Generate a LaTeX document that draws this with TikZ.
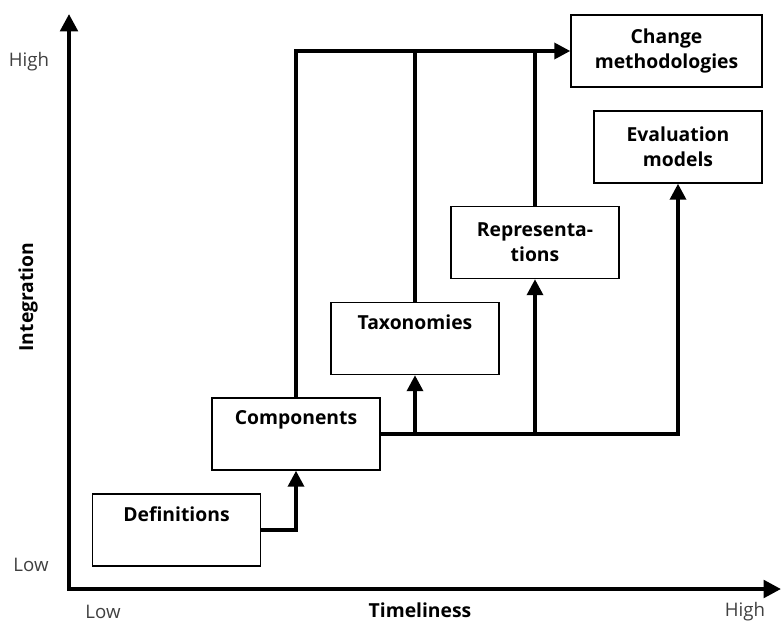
\documentclass[tikz,border=0pt]{standalone}
\usepackage{fontspec}
\setmainfont{Open Sans}
\usetikzlibrary{arrows.meta}
\usetikzlibrary{positioning}

\begin{document}
\begin{tikzpicture}[x=0.75pt,y=-0.75pt]
      \tikzstyle{every node}=[inner sep=0pt]
      \tikzstyle{box}=[draw,line width=1.1pt,minimum width=126pt,minimum height=54pt,align=center,font=\fontsize{14.5}{18.75}\selectfont\bfseries]
      \tikzstyle{lbl}=[text=black!75,font=\fontsize{14}{17}\selectfont]
      \tikzstyle{ttl}=[font=\fontsize{14.5}{17}\selectfont\bfseries]
      \tikzstyle{flow}=[line width=2.6pt,-{Triangle[length=12pt,width=12pt]}]
      \tikzstyle{link}=[line width=2.6pt]
      \tikzstyle{axis}=[line width=3pt,{Triangle[length=13pt,width=13pt]}-{Triangle[length=13pt,width=13pt]}]
      \useasboundingbox (0,0) rectangle (782,621);

      % axes
      \coordinate (orig) at (69,589);
      \coordinate (ytop) at (69,14);
      \coordinate (xend) at (781,589);
      \draw[axis] (ytop) -- (orig) -- (xend);

      \node[lbl] (yhigh) at (29,62)  {High};
      \node[lbl] (ylow)  at (31,565) {Low};
      \node[lbl] (xlow)  at (103,612) {Low};
      \node[lbl] (xhigh) at (745,612) {High};
      \node[ttl] (xname) at (420,610) {Timeliness};
      \node[ttl,rotate=90] (yname) at (28,297) {Integration};

      % boxes
      \node[box] (defs) at (176.5,530) {Definitions\\\strut};
      \node[box] (comp) at (296,434)   {Components\\\strut};
      \node[box] (taxo) at (415,338.5) {Taxonomies\\\strut};
      \node[box] (repr) at (535,242.5) {Representa-\\tions};
      \node[box] (eval) at (678,147)   {Evaluation\\models};
      \node[box,minimum width=143.25pt] (chng) at (666.5,51) {Change\\methodologies};

      % connectors
      \draw[flow] (defs.east) -| (comp.south);
      \draw[flow] (comp.north) |- (chng.west);
      \draw[link] (taxo.north) -- (taxo.north |- chng.west);
      \draw[link] (repr.north) -- (repr.north |- chng.west);
      \draw[flow] (comp.east) -| (eval.south);
      \draw[flow] (comp.east -| taxo.south) -- (taxo.south);
      \draw[flow] (comp.east -| repr.south) -- (repr.south);
    \end{tikzpicture}
\end{document}
